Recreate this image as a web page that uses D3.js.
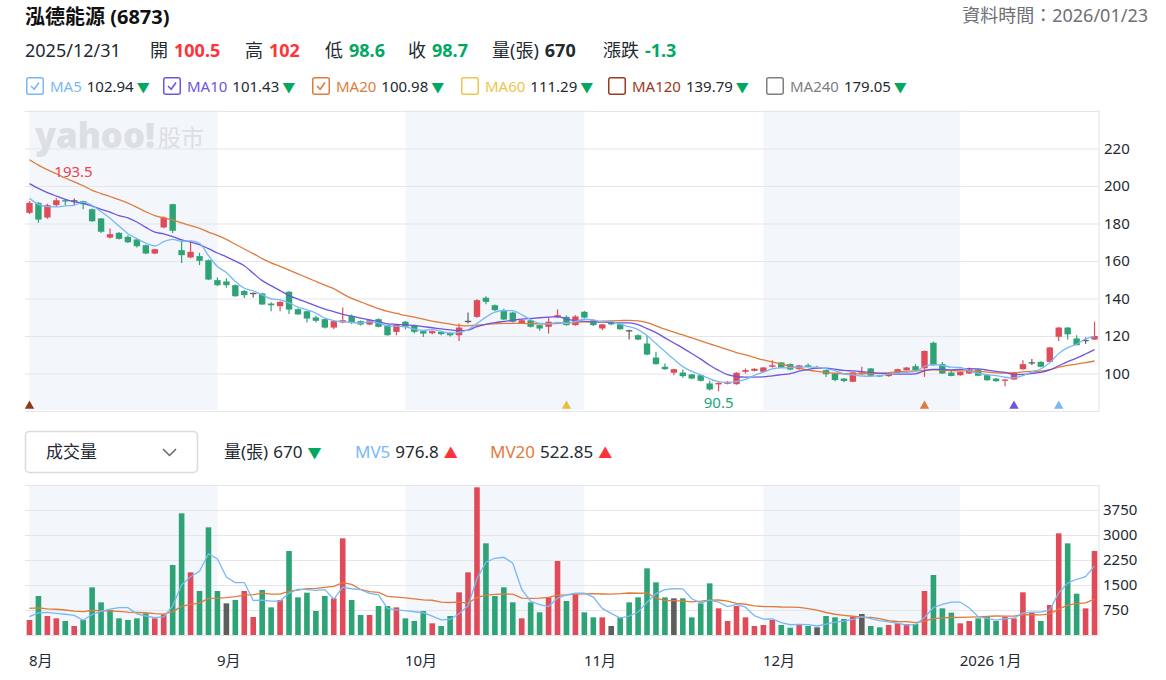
<!DOCTYPE html>
<html>
<head>
<meta charset="utf-8">
<script src="https://cdn.jsdelivr.net/npm/d3@7/dist/d3.min.js"></script>
<style>
    body { margin: 0; background: #fff; font-family: "Noto Sans", "Noto Sans CJK TC", sans-serif; }
    svg text { font-family: "Noto Sans", "Noto Sans CJK TC", sans-serif; }
</style>
</head>
<body>
<svg id="chart" width="1166" height="680"></svg>
<script>
// daily prices, 2025-08-01 .. 2026-01-23
const opens = [185.7,191.0,183.2,189.8,192.4,192.4,191.9,187.6,182.7,172.5,
    175.0,172.9,171.5,168.4,164.0,177.9,190.3,165.8,161.9,162.6,
    160.4,149.8,149.1,147.1,144.0,143.0,142.7,137.3,135.9,143.6,
    134.3,133.2,129.9,129.0,124.5,127.2,130.6,127.9,126.1,129.0,
    125.8,122.2,127.6,125.4,122.6,121.5,122.2,121.7,120.4,128.1,
    130.2,140.4,136.4,133.8,132.5,126.7,128.4,125.8,124.9,129.9,
    130.2,125.8,132.9,128.4,124.0,127.6,126.3,123.1,120.4,116.0,
    108.5,103.6,100.4,100.5,99.5,99.1,94.7,94.2,94.5,94.3,
    100.9,101.4,100.9,103.6,105.9,105.0,102.3,104.4,102.8,101.8,
    100.0,97.3,95.6,99.6,102.7,99.1,98.6,100.0,101.8,103.9,
    102.8,116.4,105.0,100.5,99.1,100.0,102.1,99.1,97.3,96.1,
    96.8,102.3,106.0,106.2,106.2,119.6,124.5,118.7,117.9,118.1];
const highs = [192.0,191.5,190.5,193.5,193.0,193.3,192.2,188.0,183.0,177.4,
    175.5,173.8,172.0,168.8,166.6,183.8,190.6,171.5,170.8,164.4,
    160.8,151.2,150.8,147.5,144.5,143.2,143.0,138.0,138.6,144.0,
    134.8,133.5,130.8,129.4,128.2,135.2,131.5,128.3,128.8,129.4,
    126.0,126.4,128.0,125.8,123.0,123.0,122.5,122.0,126.7,132.5,
    139.6,141.2,136.8,134.6,133.0,128.8,128.7,126.0,130.0,134.2,
    131.0,131.1,133.4,128.8,126.6,128.0,126.6,123.4,120.8,120.0,
    111.6,105.3,102.6,102.1,99.8,99.4,96.1,95.3,95.9,100.7,
    102.7,102.8,103.5,107.1,106.2,105.3,104.6,105.3,104.2,102.1,
    100.3,97.6,100.9,103.6,103.0,99.4,100.3,102.6,103.5,105.0,
    112.3,117.0,106.2,102.0,101.2,103.2,102.4,99.4,97.6,97.0,
    100.8,107.1,107.8,106.5,114.2,124.8,124.8,120.4,119.3,127.6];
const lows = [185.0,180.4,182.5,189.0,189.8,190.0,187.6,181.0,175.0,172.0,
    171.5,169.6,167.2,163.6,163.6,177.5,175.0,159.0,161.5,157.8,
    149.8,146.6,145.8,141.0,140.3,140.5,136.5,133.2,133.2,131.7,
    131.3,127.2,127.2,124.0,123.6,126.8,126.4,125.6,125.8,124.6,
    120.2,120.4,123.6,121.3,119.5,121.0,120.4,119.8,117.4,126.7,
    129.8,137.0,133.4,128.5,127.2,126.4,124.6,122.8,121.3,129.6,
    125.5,125.5,129.5,125.4,123.1,125.8,123.3,118.1,117.8,109.8,
    104.7,102.0,99.1,97.7,97.0,95.8,91.0,90.5,94.2,94.0,
    100.0,101.1,100.6,103.2,102.9,101.8,102.0,103.2,102.5,98.2,
    95.9,95.4,95.3,99.3,98.2,98.2,98.3,99.8,101.5,101.5,
    98.2,104.1,99.7,98.6,98.8,99.8,98.5,96.1,95.6,93.2,
    96.5,102.0,104.5,103.3,105.9,117.4,118.1,115.1,115.8,117.8];
const closes = [191.0,182.1,189.8,192.4,191.9,192.4,190.3,181.2,175.6,174.3,
    171.8,170.0,167.9,164.0,166.3,183.2,176.1,163.1,164.9,160.1,
    150.1,147.1,147.1,141.2,141.8,143.0,136.8,136.4,138.2,134.1,
    131.5,129.3,128.1,124.5,127.9,128.4,127.2,126.1,128.4,124.9,
    120.4,126.1,124.9,122.2,121.3,122.6,121.0,120.4,124.5,128.1,
    139.1,138.2,133.8,128.8,127.6,128.4,124.9,124.0,127.6,131.1,
    125.8,130.4,129.8,125.8,126.2,126.2,123.6,123.1,118.1,110.1,
    105.0,102.3,102.3,98.6,97.3,96.1,91.5,95.0,95.6,100.4,
    101.8,102.5,103.2,104.4,103.2,102.1,104.3,103.5,103.5,99.6,
    96.5,96.0,100.6,100.6,98.8,98.6,100.0,102.3,103.2,101.8,
    112.0,104.4,100.0,98.7,100.9,102.1,98.8,96.4,95.9,96.8,
    100.5,105.0,106.0,103.6,113.9,124.5,120.9,115.1,117.9,120.0];
const volumes = [450,1170,570,500,420,270,450,1430,980,750,
    500,450,500,650,500,620,2100,3650,1880,1320,
    3230,1320,950,1050,1320,540,1350,830,1050,2520,
    1130,1270,720,1170,1100,2900,1050,600,600,870,
    870,830,500,420,720,350,270,570,1280,1880,
    4430,2750,1170,1430,980,500,980,680,1130,2220,
    1020,1230,680,530,530,270,530,980,1130,2000,
    1580,1130,1100,1100,530,950,1550,800,420,870,
    530,270,300,450,300,220,330,270,230,570,
    530,480,550,630,270,230,300,350,330,330,
    1320,1800,800,670,350,420,500,550,420,550,
    500,1280,670,420,900,3050,2750,1240,800,2520];
// July sessions before the window, only used to start the moving averages
const priorCloses = [240,238,236,237,233,232,230,210,206,205,208,212,211,209,206,198,196,193,189];
const priorVolumes = [900,1200,700,850,1000,650,800,1100,950,700,900,750,800,1050,900,600,500,650,550];

const monthStarts = [0, 21, 42, 62, 82, 104];
const monthLabels = ["8月", "9月", "10月", "11月", "12月", "2026 1月"];
const priceTicks = [80, 100, 120, 140, 160, 180, 200, 220, 240];
const volumeTicks = [0, 750, 1500, 2250, 3000, 3750, 4500];
const signalDays = [0, 60, 100, 110, 115];
const signalColors = ["#8f3a1e", "#ecbd3c", "#e07b3c", "#6f55dd", "#7ab8f5"];

const RED = "#e04b5a", GREEN = "#2ea476", GRAY = "#5e5e5e";
const TXT_RED = "#ff333a", TXT_GREEN = "#00a862", INK = "#232a31";
const GRID = "#e4e6ea", SHADE = "#f3f6fa";
const C_MA5 = "#7ab8f5", C_MA10 = "#6f55dd", C_MA20 = "#e07b3c";

const svg = d3.select("#chart");
const left = 25, right = 1099;
const n = closes.length;

const xBand = d3.scaleBand().domain(d3.range(n)).range([left, right]).padding(0);
const cx = function (i) { return xBand(i) + xBand.bandwidth() / 2; };
const yPrice = d3.scaleLinear().domain([80, 240]).range([411, 111]);
const yVol = d3.scaleLinear().domain([0, 4500]).range([635, 485]);

function movingAvg(prior, values, len) {
    const all = prior.concat(values);
    return values.map(function (v, i) {
        const end = prior.length + i + 1;
        return d3.mean(all.slice(end - len, end));
    });
}

function candleColor(i) {
    if (closes[i] > opens[i]) return RED;
    if (closes[i] < opens[i]) return GREEN;
    return GRAY;
}
function volumeColor(i) {
    const prev = i === 0 ? priorCloses[priorCloses.length - 1] : closes[i - 1];
    if (closes[i] > prev) return RED;
    if (closes[i] < prev) return GREEN;
    return GRAY;
}

// ---------- header ----------
svg.append("text").attr("x", 25).attr("y", 24)
    .attr("font-size", 20).attr("font-weight", 700).attr("fill", "#111")
    .text("泓德能源 (6873)");
svg.append("text").attr("x", 1148).attr("y", 22).attr("text-anchor", "end")
    .attr("font-size", 18).attr("fill", "#6e7073")
    .text("資料時間：2026/01/23");

const quoteItems = [
    { x: 25, label: "2025/12/31", value: "", color: INK },
    { x: 150, label: "開", value: "100.5", color: TXT_RED },
    { x: 245, label: "高", value: "102", color: TXT_RED },
    { x: 325, label: "低", value: "98.6", color: TXT_GREEN },
    { x: 408, label: "收", value: "98.7", color: TXT_GREEN },
    { x: 492, label: "量(張)", value: "670", color: INK },
    { x: 603, label: "漲跌", value: "-1.3", color: TXT_GREEN }
];
const quote = svg.selectAll(".quote").data(quoteItems).enter()
    .append("text").attr("class", "quote")
    .attr("x", function (d) { return d.x; }).attr("y", 57)
    .attr("font-size", 18).attr("fill", INK);
quote.append("tspan").text(function (d) { return d.label; });
quote.append("tspan").attr("dx", 6).attr("font-weight", 700)
    .attr("fill", function (d) { return d.color; })
    .text(function (d) { return d.value; });

const maItems = [
    { x: 26, name: "MA5", value: "102.94", color: C_MA5, on: true },
    { x: 163, name: "MA10", value: "101.43", color: C_MA10, on: true },
    { x: 312, name: "MA20", value: "100.98", color: C_MA20, on: true },
    { x: 461, name: "MA60", value: "111.29", color: "#f0c34e", on: false },
    { x: 608, name: "MA120", value: "139.79", color: "#9a3b1e", on: false },
    { x: 766, name: "MA240", value: "179.05", color: "#7d7f82", on: false }
];
const maLegend = svg.selectAll(".ma-item").data(maItems).enter()
    .append("g").attr("class", "ma-item")
    .attr("transform", function (d) { return "translate(" + d.x + ",0)"; });
maLegend.append("rect").attr("x", 0.75).attr("y", 77.75).attr("width", 16.5).attr("height", 16.5)
    .attr("rx", 2).attr("fill", "#fff")
    .attr("stroke", function (d) { return d.color; }).attr("stroke-width", 1.5);
maLegend.filter(function (d) { return d.on; }).append("path")
    .attr("d", "M5,86 L8.2,89.2 L13,82.5").attr("fill", "none")
    .attr("stroke", function (d) { return d.color; }).attr("stroke-width", 1.6);
const maText = maLegend.append("text").attr("x", 24).attr("y", 91.5).attr("font-size", 15);
maText.append("tspan").attr("fill", function (d) { return d.color; }).text(function (d) { return d.name; });
maText.append("tspan").attr("dx", 5).attr("fill", INK).text(function (d) { return d.value; });
maText.append("tspan").attr("dx", 3).attr("fill", TXT_GREEN).attr("font-size", 13).text("▼");

// ---------- month shading ----------
const shadeMonths = [0, 2, 4];
[[110, 410], [485, 635]].forEach(function (band) {
    svg.selectAll(null).data(shadeMonths).enter().append("rect")
        .attr("x", function (k) { return cx(monthStarts[k]); })
        .attr("width", function (k) { return cx(monthStarts[k + 1]) - cx(monthStarts[k]); })
        .attr("y", band[0]).attr("height", band[1] - band[0])
        .attr("fill", SHADE);
});

// ---------- price axis / grid ----------
const priceAxis = svg.append("g").attr("transform", "translate(" + right + ",0)")
    .call(d3.axisRight(yPrice).tickValues(priceTicks).tickSize(-(right - left)).tickPadding(5)
        .tickFormat(function (d) { return (d === 80 || d === 240) ? "" : d; }));
priceAxis.select(".domain").remove();
priceAxis.selectAll("line").attr("stroke", GRID).attr("stroke-width", 1.2);
priceAxis.selectAll("text").attr("font-size", 15).attr("fill", INK);
svg.append("line").attr("x1", right).attr("x2", right).attr("y1", 110).attr("y2", 411)
    .attr("stroke", GRID).attr("stroke-width", 1.2);

// watermark
svg.append("text").attr("x", 35).attr("y", 148).attr("font-family", "Lato")
    .attr("font-size", 36).attr("font-weight", 900).attr("fill", "#dcdfe3")
    .attr("textLength", 120).attr("lengthAdjust", "spacingAndGlyphs").text("yahoo!");
svg.append("text").attr("x", 158).attr("y", 146).attr("font-size", 23)
    .attr("fill", "#dcdfe3").text("股市");

svg.append("clipPath").attr("id", "price-clip").append("rect")
    .attr("x", left).attr("y", 110).attr("width", right - left).attr("height", 301);
const pricePlot = svg.append("g").attr("clip-path", "url(#price-clip)");

// candles
const idx = d3.range(n);
pricePlot.selectAll(".wick").data(idx).enter().append("line")
    .attr("x1", function (i) { return cx(i); }).attr("x2", function (i) { return cx(i); })
    .attr("y1", function (i) { return yPrice(highs[i]); })
    .attr("y2", function (i) { return yPrice(lows[i]); })
    .attr("stroke", candleColor).attr("stroke-width", 1.2);
pricePlot.selectAll(".body").data(idx).enter().append("rect")
    .attr("x", function (i) { return cx(i) - 3.2; }).attr("width", 6.4)
    .attr("y", function (i) { return yPrice(Math.max(opens[i], closes[i])); })
    .attr("height", function (i) { return Math.max(1.3, Math.abs(yPrice(opens[i]) - yPrice(closes[i]))); })
    .attr("fill", candleColor);

// moving averages
const maLine = d3.line()
    .x(function (d, i) { return cx(i); })
    .y(function (d) { return yPrice(d); })
    .curve(d3.curveMonotoneX);
[[20, C_MA20], [10, C_MA10], [5, C_MA5]].forEach(function (m) {
    pricePlot.append("path").datum(movingAvg(priorCloses, closes, m[0]))
        .attr("d", maLine).attr("fill", "none")
        .attr("stroke", m[1]).attr("stroke-width", 1.3);
});

// signal markers
svg.selectAll(".signal").data(signalDays).enter().append("path")
    .attr("d", d3.symbol(d3.symbolTriangle).size(38))
    .attr("transform", function (d) { return "translate(" + cx(d) + ",406)"; })
    .attr("fill", function (d, i) { return signalColors[i]; });

// high / low labels
const hiIdx = d3.maxIndex(highs), loIdx = d3.minIndex(lows);
svg.append("text").attr("x", cx(hiIdx) - 2).attr("y", yPrice(highs[hiIdx]) - 21)
    .attr("font-size", 15).attr("fill", "#f04050").text(highs[hiIdx]);
svg.append("text").attr("x", cx(loIdx)).attr("y", yPrice(lows[loIdx]) + 17)
    .attr("text-anchor", "middle").attr("font-size", 15).attr("fill", "#1aa67a").text(lows[loIdx]);

// ---------- volume header ----------
svg.append("rect").attr("x", 25.5).attr("y", 431.5).attr("width", 172).attr("height", 41)
    .attr("rx", 4).attr("fill", "#fff").attr("stroke", "#d9dce1").attr("stroke-width", 1.5);
svg.append("text").attr("x", 46).attr("y", 458).attr("font-size", 17).attr("fill", INK).text("成交量");
svg.append("path").attr("d", "M163,449 L169.5,455.5 L176,449").attr("fill", "none")
    .attr("stroke", "#666").attr("stroke-width", 1.5);

const volItems = [
    { x: 224, name: "量(張)", value: "670", color: INK, up: false },
    { x: 355, name: "MV5", value: "976.8", color: C_MA5, up: true },
    { x: 490, name: "MV20", value: "522.85", color: C_MA20, up: true }
];
const volText = svg.selectAll(".vol-item").data(volItems).enter()
    .append("text").attr("class", "vol-item")
    .attr("x", function (d) { return d.x; }).attr("y", 458).attr("font-size", 17);
volText.append("tspan").attr("fill", function (d) { return d.color; }).text(function (d) { return d.name; });
volText.append("tspan").attr("dx", 5).attr("fill", INK).text(function (d) { return d.value; });
volText.append("tspan").attr("dx", 5).attr("font-size", 14)
    .attr("fill", function (d) { return d.up ? TXT_RED : TXT_GREEN; })
    .text(function (d) { return d.up ? "▲" : "▼"; });

// ---------- volume panel ----------
const volAxis = svg.append("g").attr("transform", "translate(" + right + ",0)")
    .call(d3.axisRight(yVol).tickValues(volumeTicks).tickSize(-(right - left)).tickPadding(4)
        .tickFormat(function (d) { return (d === 0 || d === 4500) ? "" : d; }));
volAxis.select(".domain").remove();
volAxis.selectAll("line").attr("stroke", GRID).attr("stroke-width", 1.2);
volAxis.selectAll("text").attr("font-size", 15).attr("fill", INK);
svg.append("line").attr("x1", right).attr("x2", right).attr("y1", 485).attr("y2", 635)
    .attr("stroke", GRID).attr("stroke-width", 1.2);

svg.selectAll(".vbar").data(idx).enter().append("rect")
    .attr("x", function (i) { return cx(i) - 2.8; }).attr("width", 5.6)
    .attr("y", function (i) { return yVol(volumes[i]); })
    .attr("height", function (i) { return yVol(0) - yVol(volumes[i]); })
    .attr("fill", volumeColor);

const mvLine = d3.line()
    .x(function (d, i) { return cx(i); })
    .y(function (d) { return yVol(d); });
[[20, C_MA20], [5, C_MA5]].forEach(function (m) {
    svg.append("path").datum(movingAvg(priorVolumes, volumes, m[0]))
        .attr("d", mvLine).attr("fill", "none")
        .attr("stroke", m[1]).attr("stroke-width", 1.3);
});

// month labels
const xCenter = d3.scaleLinear().domain([0, n - 1]).range([cx(0), cx(n - 1)]);
const monthAxis = svg.append("g").attr("transform", "translate(0,655)")
    .call(d3.axisBottom(xCenter).tickValues(monthStarts).tickSize(0).tickPadding(0)
        .tickFormat(function (d, i) { return monthLabels[i]; }));
monthAxis.select(".domain").remove();
monthAxis.selectAll("text").attr("text-anchor", "start").attr("dx", -1)
    .attr("font-size", 15).attr("fill", INK);
</script>
</body>
</html>
